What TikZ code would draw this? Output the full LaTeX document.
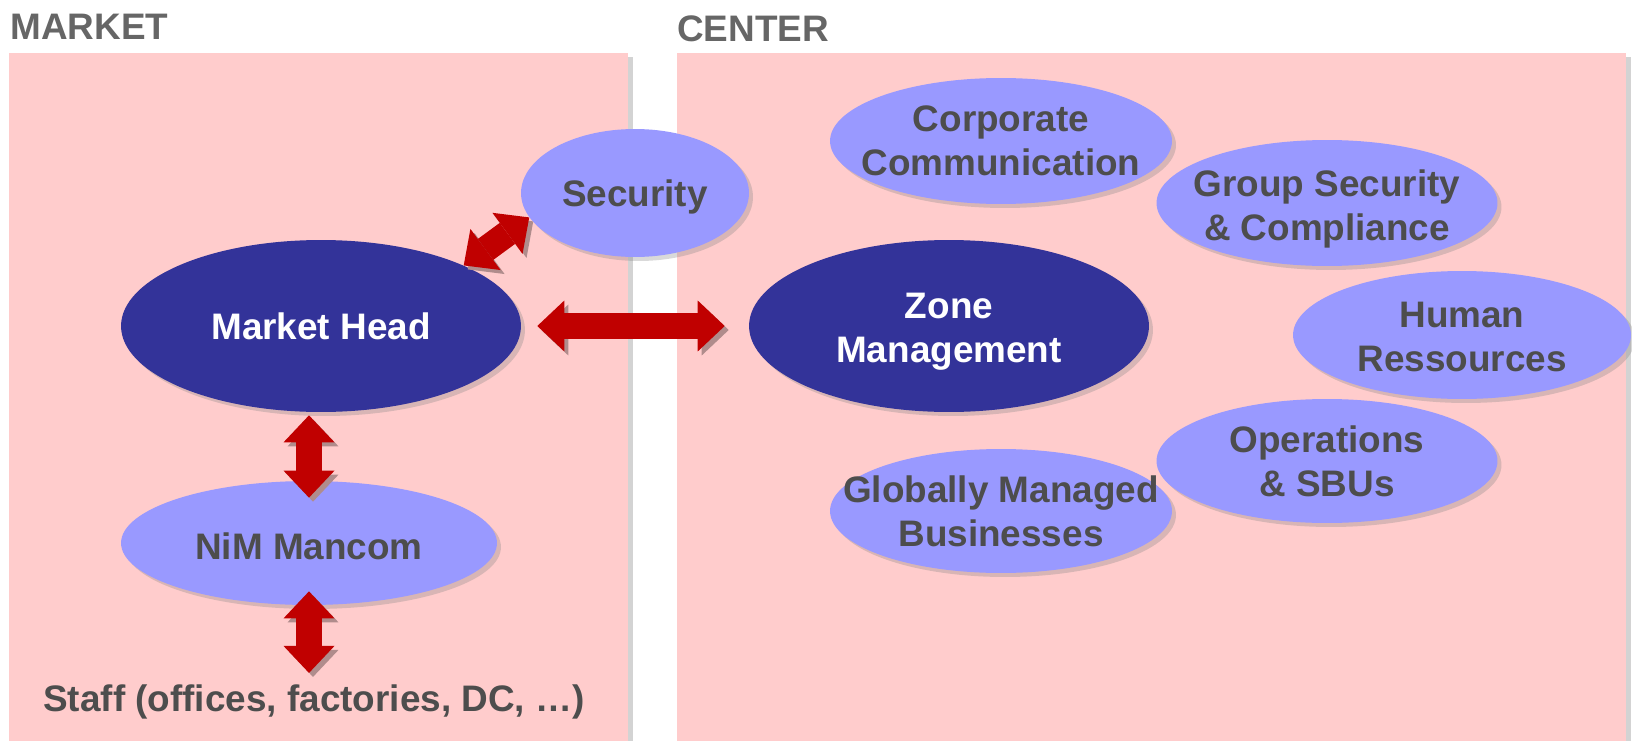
\documentclass[tikz,border=0pt]{standalone}
\usepackage{fontspec}
\setmainfont{Liberation Sans}
\usetikzlibrary{shapes.geometric,arrows.meta,shadows,positioning}

\definecolor{boxpink}{HTML}{FFCCCC}
\definecolor{lightblue}{HTML}{9999FF}
\definecolor{darkblue}{HTML}{333399}
\definecolor{arrowred}{HTML}{C00000}
\definecolor{arrowshade}{HTML}{B08C8C}
\definecolor{txtgray}{HTML}{4D4D4D}
\definecolor{headgray}{HTML}{666666}

\tikzset{
    bigfont/.style={font=\fontsize{21}{25}\selectfont\bfseries},
    headlabel/.style={bigfont, text=headgray, inner sep=0pt},
    lightell/.style={ellipse, fill=lightblue, inner sep=0pt, minimum width=6.82cm, minimum height=2.52cm,
        drop shadow={shadow xshift=0.08cm, shadow yshift=-0.08cm, opacity=0.3}},
    darkell/.style={lightell, fill=darkblue, minimum width=8cm, minimum height=3.44cm},
    celltext/.style={bigfont, text=txtgray, align=center},
    whitetext/.style={celltext, text=white},
    bigtip/.tip={Triangle[length=0.54cm, width=1.02cm, line width=0pt]},
    blockarrow/.style={draw=arrowred, line width=0.52cm, arrows={bigtip-bigtip},
        preaction={draw=arrowshade, transform canvas={xshift=0.08cm, yshift=-0.08cm}}}
}

\begin{document}
\begin{tikzpicture}[x=0.02cm, y=-0.02cm]
    \useasboundingbox (0,0) rectangle (1632,740);

    % Panels
    \fill[boxpink, drop shadow={shadow xshift=0.1cm, shadow yshift=-0.08cm, opacity=0.35}] (9,53) rectangle (628,760);
    \fill[boxpink, drop shadow={shadow xshift=0.1cm, shadow yshift=-0.08cm, opacity=0.35}] (677,53) rectangle (1626,760);
    \node[headlabel, anchor=base west] (marketlbl) at (10,40) {MARKET};
    \node[headlabel, anchor=base west] (centerlbl) at (677,42) {CENTER};

    % Center functions
    \node[lightell, minimum width=6.84cm] (corp) at (1001,141) {};
    \node[celltext] (corp-t) at (corp) {Corporate\\Communication};
    \node[lightell] (gsc) at (1327,203) {};
    \node[celltext, yshift=-0.12cm] (gsc-t) at (gsc) {Group Security\\\& Compliance};
    \node[lightell, minimum width=6.76cm, minimum height=2.56cm] (hr) at (1462,335) {};
    \node[celltext, yshift=-0.04cm] (hr-t) at (hr) {Human\\Ressources};
    \node[lightell, minimum width=6.84cm, minimum height=2.48cm] (gmb) at (1001,511) {};
    \node[celltext] (gmb-t) at (gmb) {Globally Managed\\Businesses};
    \node[lightell, minimum height=2.48cm] (ops) at (1327,461) {};
    \node[celltext] (ops-t) at (ops) {Operations\\\& SBUs};
    \node[darkell] (zone) at (949,326) {};
    \node[whitetext, yshift=-0.12cm] (zone-t) at (zone) {Zone\\Management};

    % Market
    \node[darkell] (mh) at (321,326) {};
    \node[whitetext] (mh-t) at (mh) {Market Head};
    \node[lightell, minimum width=7.52cm, minimum height=2.48cm] (mancom) at (309,543) {};
    \node[celltext, yshift=-0.06cm] (mancom-t) at (mancom) {NiM Mancom};
    \node[lightell, minimum width=4.56cm, minimum height=2.56cm] (sec) at (635,193) {};
    \node[celltext, yshift=-0.07cm] (sec-t) at (sec) {Security};
    \node[celltext, inner sep=0pt, anchor=base] (staff) at (314,711) {Staff (offices, factories, DC, …)};

    % Links
    \draw[blockarrow] (mh.23) -- (sec.193);
    \draw[blockarrow, shorten <=0.32cm, shorten >=0.48cm] (mh.east) -- (zone.west);
    \draw[blockarrow, shorten <=0.06cm, shorten >=-0.34cm] (mh.south -| mancom) -- (mancom.north);
    \draw[blockarrow, shorten <=-0.28cm, shorten >=0.22cm] (mancom.south) -- (mancom.south |- staff.north);
\end{tikzpicture}
\end{document}
